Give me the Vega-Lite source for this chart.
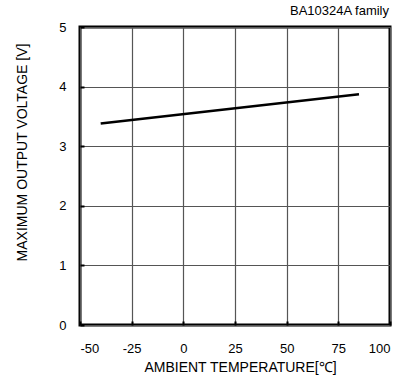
{
  "$schema": "https://vega.github.io/schema/vega-lite/v6.json",
  "autosize": "none",
  "width": 310,
  "height": 298,
  "padding": {"left": 80, "top": 27, "right": 12, "bottom": 54},
  "background": "white",
  "title": {"text": "BA10324A family", "anchor": "end", "fontSize": 13, "fontWeight": "normal", "font": "Liberation Sans", "color": "black", "offset": 3, "dx": -2},
  "config": {
    "view": {"stroke": "black", "strokeWidth": 3},
    "axis": {"labelFont": "Liberation Sans", "titleFont": "Liberation Sans", "labelFontSize": 13, "titleFontSize": 14, "titleFontWeight": "normal", "labelColor": "black", "titleColor": "black", "domain": false, "gridColor": "#555", "gridWidth": 1.2, "tickColor": "black", "tickWidth": 2}
  },
  "data": {"values": [
    {"t": -40, "v": 3.38},
    {"t": 85, "v": 3.87}
  ]},
  "mark": {"type": "line", "color": "black", "strokeWidth": 2.5},
  "encoding": {
    "x": {"field": "t", "type": "quantitative", "scale": {"domain": [-50, 100], "nice": false}, "axis": {"values": [-50, -25, 0, 25, 50, 75, 100], "labelExpr": "'' + datum.value", "title": "AMBIENT TEMPERATURE[℃]", "tickSize": -4, "labelPadding": 21, "titlePadding": 5, "titleX": 160}},
    "y": {"field": "v", "type": "quantitative", "scale": {"domain": [0, 5], "nice": false}, "axis": {"values": [0, 1, 2, 3, 4, 5], "title": "MAXIMUM OUTPUT VOLTAGE  [V]", "tickSize": -4, "labelPadding": 18, "titlePadding": 29, "titleY": 125}}
  }
}
